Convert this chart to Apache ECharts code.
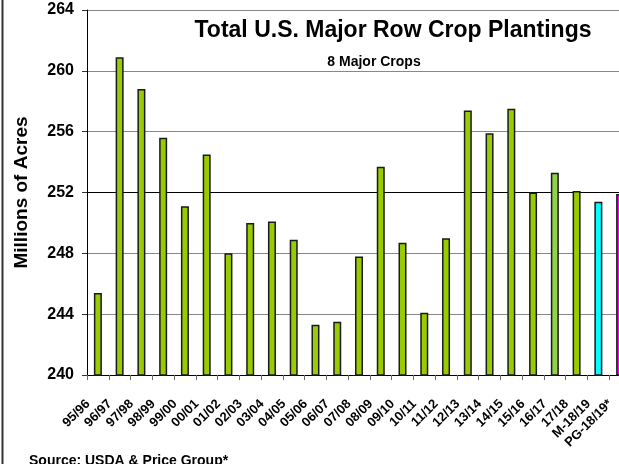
<!DOCTYPE html>
<html>
<head>
<meta charset="utf-8">
<script src="https://cdn.jsdelivr.net/npm/echarts@6/dist/echarts.min.js"></script>
<style>
  html, body { margin: 0; padding: 0; background: #fff; }
  #chart { width: 619px; height: 464px; }
</style>
</head>
<body>
<div id="chart"></div>
<script>
const seasons = ['95/96', '96/97', '97/98', '98/99', '99/00', '00/01', '01/02', '02/03', '03/04', '04/05',
  '05/06', '06/07', '07/08', '08/09', '09/10', '10/11', '11/12', '12/13', '13/14', '14/15',
  '15/16', '16/17', '17/18', 'M-18/19', 'PG-18/19*']
const acres = [245.4, 260.9, 258.8, 255.6, 251.1, 254.5, 248.0, 250.0, 250.1, 248.9,
  243.3, 243.5, 247.8, 253.7, 248.7, 244.1, 249.0, 257.4, 255.9, 257.5,
  252.0, 253.3, 252.1, 251.4, 251.9]
const barColors = ['#99cc00', '#99cc00', '#99cc00', '#99cc00', '#99cc00', '#99cc00', '#99cc00', '#99cc00', '#99cc00', '#99cc00',
  '#99cc00', '#99cc00', '#99cc00', '#99cc00', '#99cc00', '#99cc00', '#99cc00', '#99cc00', '#99cc00', '#99cc00',
  '#99cc00', '#92d050', '#99cc00', '#00ffff', '#ff00ff']
const yTicks = [240, 244, 248, 252, 256, 260, 264]

const font = 'Arial, "Liberation Sans", sans-serif'
const chart = echarts.init(document.getElementById('chart'), null, { renderer: 'canvas' })

chart.setOption({
  backgroundColor: '#ffffff',
  animation: false,
  title: [
    { text: 'Total U.S. Major Row Crop Plantings', left: 388, top: 14, textAlign: 'center',
      textStyle: { fontSize: 23, fontWeight: 'bold', color: '#000', fontFamily: font } },
    { text: '8 Major Crops', left: 369, top: 50, textAlign: 'center',
      textStyle: { fontSize: 14, fontWeight: 'bold', color: '#000', fontFamily: font } },
    { text: 'Source: USDA & Price Group*', left: 24, top: 449,
      textStyle: { fontSize: 14, fontWeight: 'bold', color: '#000', fontFamily: font } },
  ],
  graphic: [
    { type: 'line', shape: { x1: 2.5, y1: 0, x2: 2.5, y2: 464 }, style: { stroke: '#333', lineWidth: 2 } },
  ],
  // plot runs past the right edge, like the original slide crop
  grid: { left: 87, width: 544, top: 10, height: 365, outerBoundsMode: 'none', containLabel: false },
  xAxis: {
    type: 'category',
    data: seasons,
    axisLine: { lineStyle: { color: '#000', width: 1 } },
    axisTick: { show: true, length: 5, lineStyle: { color: '#666' } },
    axisLabel: {
      rotate: 45, margin: 17, padding: [0, 14, 0, 0], interval: 0,
      fontSize: 13, fontWeight: 'bold', color: '#000', fontFamily: font,
    },
  },
  yAxis: {
    type: 'value',
    min: yTicks[0],
    max: yTicks[yTicks.length - 1],
    interval: 4,
    name: 'Millions of Acres',
    nameLocation: 'middle',
    nameRotate: 90,
    nameGap: 56,
    nameTextStyle: { fontSize: 19, fontWeight: 'bold', color: '#000', fontFamily: font },
    axisLine: { show: true, lineStyle: { color: '#000', width: 1 } },
    axisTick: { show: true, length: 5, lineStyle: { color: '#333' } },
    axisLabel: { margin: 13, fontSize: 16, fontWeight: 'bold', color: '#000', fontFamily: font },
    splitLine: {
      lineStyle: { color: ['#888', '#888', '#888', '#000', '#888', '#888', '#888'], width: 1.2 },
    },
  },
  series: [{
    type: 'bar',
    barWidth: 8,
    data: acres.map((v, i) => ({
      value: v,
      itemStyle: { color: barColors[i], borderColor: '#1a1a1a', borderWidth: 1.5 },
    })),
  }],
})
</script>
</body>
</html>
